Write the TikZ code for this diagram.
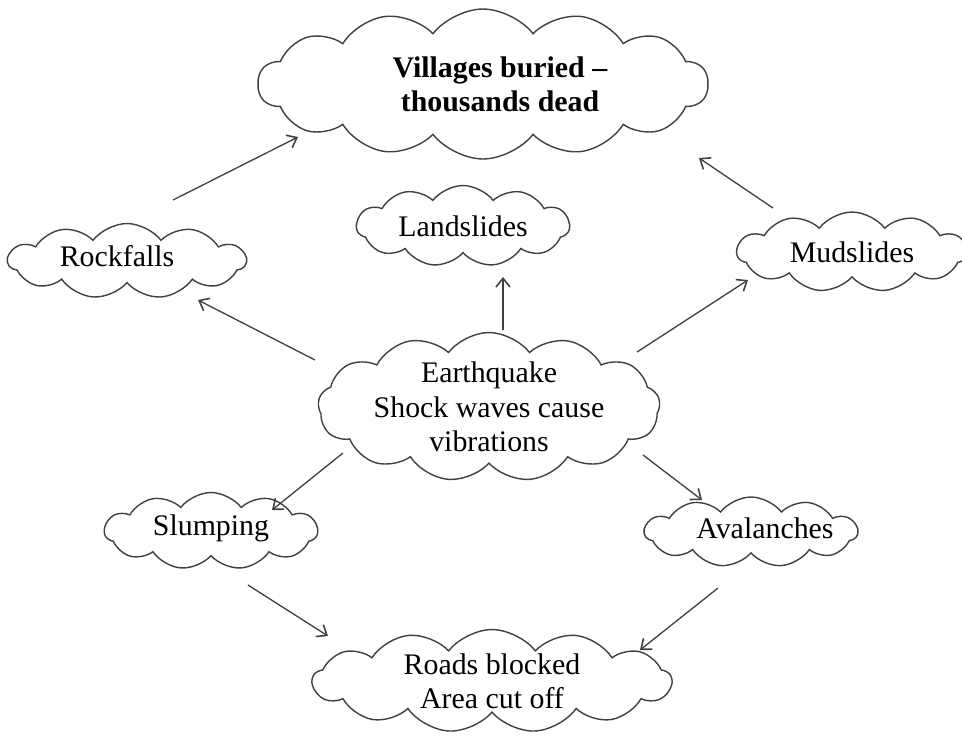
\documentclass[tikz,border=0pt]{standalone}
\usepackage{fontspec}
\setmainfont{Liberation Serif}
\usetikzlibrary{shapes.symbols,arrows.meta}
\tikzset{
  blob/.style={cloud, cloud puffs=#1, cloud puff arc=105, cloud ignores aspect, draw=black!75, line width=0.8pt, inner sep=0pt},
  txt/.style={align=center, inner sep=0pt, font=\fontsize{17}{19.5}\selectfont},
  arr/.style={draw=black!75, line width=0.75pt, -{Straight Barb[length=5pt,width=8pt,line width=0.9pt]}}
}
\begin{document}
\begin{tikzpicture}[x=0.02cm,y=-0.02cm]
\useasboundingbox (0,0) rectangle (962,735);
\node[blob=14, minimum width=9cm, minimum height=3.0cm,
  label={[txt, xshift=0.34cm]center:\textbf{Villages buried –}\\\textbf{thousands dead}}] (top) at (483,84) {};
\node[blob=11, minimum width=4.76cm, minimum height=1.5cm,
  label={[txt, xshift=-0.2cm, yshift=0.1cm]center:Rockfalls}] (rock) at (127,261) {};
\node[blob=11, minimum width=4.26cm, minimum height=1.62cm,
  label={[txt]center:Landslides}] (land) at (463,226) {};
\node[blob=11, minimum width=4.6cm, minimum height=1.6cm,
  label={[txt]center:Mudslides}] (mud) at (852,252) {};
\node[blob=13, minimum width=6.84cm, minimum height=2.98cm,
  label={[txt]center:Earthquake\\Shock waves cause\\vibrations}] (eq) at (489,407) {};
\node[blob=11, minimum width=4.26cm, minimum height=1.54cm,
  label={[txt, yshift=0.06cm]center:Slumping}] (slump) at (211,531) {};
\node[blob=11, minimum width=4.26cm, minimum height=1.4cm,
  label={[txt, xshift=0.28cm, yshift=0.08cm]center:Avalanches}] (aval) at (751,532) {};
\node[blob=13, minimum width=7.18cm, minimum height=2.06cm,
  label={[txt]center:Roads blocked\\Area cut off}] (roads) at (492,681) {};
\draw[arr] ([shift={(46,-61)}]rock.center) -- ([shift={(-185,53)}]top.center);
\draw[arr] ([shift={(-79,-44)}]mud.center) -- ([shift={(216,74)}]top.center);
\draw[arr] ([shift={(14,-77)}]eq.center) -- ([shift={(40,51)}]land.center);
\draw[arr] ([shift={(-174,-47)}]eq.center) -- ([shift={(71,39)}]rock.center);
\draw[arr] ([shift={(148,-55)}]eq.center) -- ([shift={(-104,28)}]mud.center);
\draw[arr] ([shift={(-146,46)}]eq.center) -- ([shift={(61,-21)}]slump.center);
\draw[arr] ([shift={(154,48)}]eq.center) -- ([shift={(-49,-32)}]aval.center);
\draw[arr] ([shift={(37,54)}]slump.center) -- ([shift={(-164,-45)}]roads.center);
\draw[arr] ([shift={(-33,56)}]aval.center) -- ([shift={(148,-31)}]roads.center);
\end{tikzpicture}
\end{document}
